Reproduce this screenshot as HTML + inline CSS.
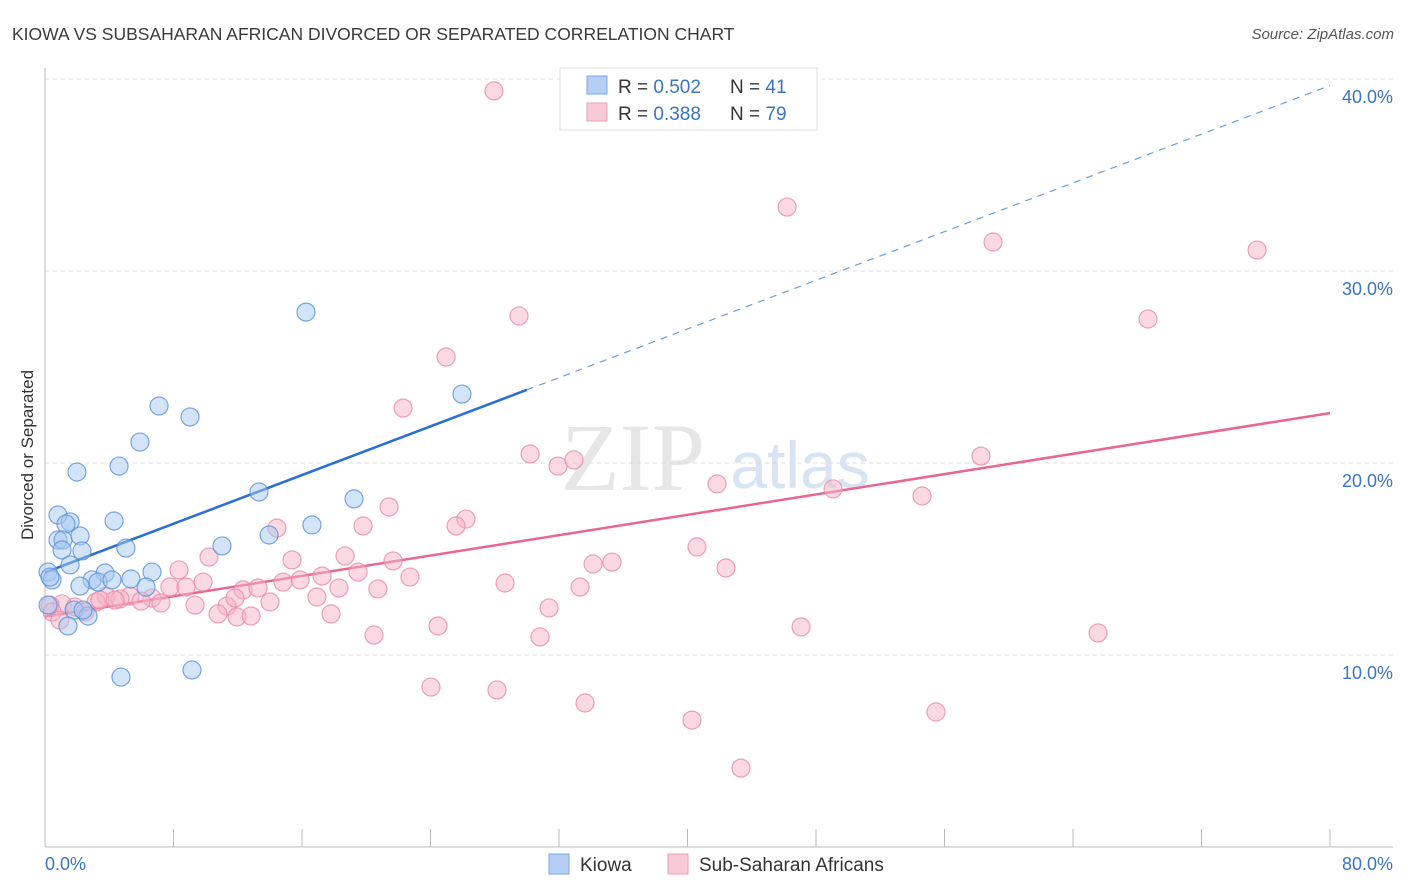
<!DOCTYPE html>
<html><head><meta charset="utf-8"><style>
body{margin:0;background:#fff;font-family:"Liberation Sans",sans-serif;}
svg{display:block}
</style></head><body>
<svg id="chart" width="1406" height="892" viewBox="0 0 1406 892" xmlns="http://www.w3.org/2000/svg" font-family="Liberation Sans, sans-serif">
<text x="12" y="40" font-size="17.5" fill="#3a3a3a">KIOWA VS SUBSAHARAN AFRICAN DIVORCED OR SEPARATED CORRELATION CHART</text>
<text x="1394" y="39" font-size="15" fill="#555" font-style="italic" text-anchor="end">Source: ZipAtlas.com</text>
<g>
<text x="633" y="490" font-size="96" fill="#e6e6e6" font-family="Liberation Serif, serif" text-anchor="middle">ZIP</text>
<text x="800" y="488" font-size="66" fill="#d8e4f4" text-anchor="middle">atlas</text>
</g>
<g id="grid"></g>
<g id="axes"></g>
<g id="trends"></g>
<g id="pts"></g>
<g>
<rect x="560" y="68" width="257" height="62" fill="#fff" stroke="#ddd"/>
<rect x="587" y="76" width="20" height="18" fill="#b4cff3" stroke="#7aa7e0"/>
<rect x="587" y="103" width="20" height="18" fill="#f8c9d6" stroke="#ec9fb8"/>
<text x="618" y="93" font-size="19" fill="#333">R = <tspan fill="#3a75c4">0.502</tspan></text>
<text x="730" y="93" font-size="19" fill="#333">N = <tspan fill="#3a75c4"> 41</tspan></text>
<text x="618" y="120" font-size="19" fill="#333">R = <tspan fill="#3a75c4"> 0.388</tspan></text>
<text x="730" y="120" font-size="19" fill="#333">N = <tspan fill="#3a75c4">79</tspan></text>
</g>
<g>
<rect x="549" y="854" width="20" height="20" fill="#b4cff3" stroke="#7aa7e0"/>
<text x="580" y="871" font-size="19" fill="#333">Kiowa</text>
<rect x="668" y="854" width="20" height="20" fill="#f8c9d6" stroke="#ec9fb8"/>
<text x="699" y="871" font-size="19" fill="#333">Sub-Saharan Africans</text>
</g>
<text transform="translate(33,455) rotate(-90)" font-size="17" fill="#333" text-anchor="middle">Divorced or Separated</text>
</svg>
<script>
const yTicks=[10,20,30,40];
const xTickLabels=["0.0%","80.0%"];
const kiowaX=[16.25,25.96,7.10,9.03,5.91,1.99,4.61,13.32,19.24,4.30,0.81,1.56,1.31,0.81,1.12,2.18,16.62,13.95,11.02,5.04,1.06,2.30,1.56,0.19,0.44,6.66,3.74,2.93,3.30,5.35,6.29,2.18,1.81,2.68,0.19,1.43,2.37,4.73,9.15,0.31,4.17];
const kiowaY=[27.86,23.59,22.97,22.40,21.09,19.53,19.84,18.49,18.13,16.98,17.29,16.93,16.82,15.99,15.99,16.20,16.77,16.25,15.68,15.57,15.47,15.42,14.69,14.32,13.91,14.32,14.27,13.91,13.80,13.96,13.54,13.59,12.34,12.03,12.60,11.51,12.34,8.85,9.22,14.06,13.91];
const ssaX=[27.95,46.20,59.02,75.46,68.67,29.51,24.97,22.29,30.20,31.94,32.93,58.27,41.84,49.06,54.60,21.42,26.21,25.59,19.80,14.44,40.59,10.21,18.68,15.38,21.67,34.12,35.30,42.40,8.34,19.49,22.72,17.25,15.88,14.82,28.64,9.84,33.31,7.78,8.78,18.30,20.73,12.33,13.26,16.93,3.80,5.29,6.66,4.67,5.98,7.22,3.18,9.34,11.33,31.38,14.01,1.06,0.31,1.87,2.49,3.42,10.77,17.81,11.95,12.83,24.47,47.07,65.56,20.48,30.82,24.03,28.14,33.62,40.28,55.47,43.33,0.44,0.93,4.36,11.83];
const ssaY=[39.38,33.33,31.51,31.09,27.50,27.66,25.52,22.86,20.47,19.84,20.16,20.36,18.91,18.65,18.28,17.71,17.08,16.72,16.72,16.61,15.63,15.10,15.16,14.95,14.90,14.74,14.84,14.53,14.43,14.32,14.06,14.11,13.91,13.80,13.75,13.80,13.54,13.54,13.54,13.49,13.44,13.39,13.49,13.02,13.07,13.07,12.97,12.92,12.81,12.71,12.76,12.60,12.55,12.45,12.76,12.66,12.60,12.50,12.24,12.86,12.14,12.14,11.98,12.03,11.51,11.46,11.15,11.04,10.94,8.33,8.18,7.50,6.61,7.03,4.11,12.24,11.82,12.86,12.97];
const kiowaTrend=[14.3,0.317];
const ssaTrend=[12.0,0.1325];
const NS="http://www.w3.org/2000/svg";
const X0=45,X1=1330,Y0=847,PX_PER_Y=19.2;
function sx(v){return X0+(X1-X0)*v/80;}
function sy(v){return Y0-v*PX_PER_Y;}
function mk(tag,attrs,parent){const e=document.createElementNS(NS,tag);for(const k in attrs)e.setAttribute(k,attrs[k]);parent.appendChild(e);return e;}
const grid=document.getElementById('grid'),axes=document.getElementById('axes'),trends=document.getElementById('trends'),pts=document.getElementById('pts');
yTicks.forEach(t=>{
  const l=mk('line',{x1:45,x2:1393,y1:sy(t),y2:sy(t),stroke:'#ddd','stroke-dasharray':'4,4'},grid);
  
  
  const tx=mk('text',{x:1393,y:sy(t)+24,'font-size':18,fill:'#3a75c4','text-anchor':'end'},grid);
  tx.textContent=t.toFixed(1)+'%';
  
  
});
const ya=mk('line',{x1:45,x2:45,y1:68,y2:847,stroke:'#bbb'},axes);


const xa=mk('line',{x1:45,x2:1393,y1:847,y2:847,stroke:'#bbb'},axes);


for(let i=1;i<=10;i++){
  const t=mk('line',{x1:sx(i*8),x2:sx(i*8),y1:829,y2:847,stroke:'#bbb'},axes);
  
  
}
const xl0=mk('text',{x:45,y:870,'font-size':18,fill:'#3a75c4'},axes);
xl0.textContent=xTickLabels[0];


const xl1=mk('text',{x:1393,y:870,'font-size':18,fill:'#3a75c4','text-anchor':'end'},axes);
xl1.textContent=xTickLabels[1];


function dots(xs,ys,fill,stroke,name){
  xs.forEach((x,i)=>{
    const c=mk('circle',{cx:sx(x),cy:sy(ys[i]),r:9,fill:fill,'fill-opacity':0.5,stroke:stroke,'stroke-opacity':0.8,'stroke-width':1.2},pts);
    
    
  });
}
dots(ssaX,ssaY,'#f5b3c7','#e88aa8','point-subsaharan');
dots(kiowaX,kiowaY,'#a8c8f2','#5a91d8','point-kiowa');
const kb=mk('line',{x1:sx(0),y1:sy(kiowaTrend[0]),x2:sx(30),y2:sy(kiowaTrend[0]+kiowaTrend[1]*30),stroke:'#2b6fd6','stroke-width':2.5},trends);


const kd=mk('line',{x1:sx(30),y1:sy(kiowaTrend[0]+kiowaTrend[1]*30),x2:sx(80),y2:sy(kiowaTrend[0]+kiowaTrend[1]*80),stroke:'#6a9ee0','stroke-width':1.2,'stroke-dasharray':'7,6'},trends);


const pl=mk('line',{x1:sx(0),y1:sy(ssaTrend[0]),x2:sx(80),y2:sy(ssaTrend[0]+ssaTrend[1]*80),stroke:'#e8668f','stroke-width':2.5},trends);


</script>
</body></html>
